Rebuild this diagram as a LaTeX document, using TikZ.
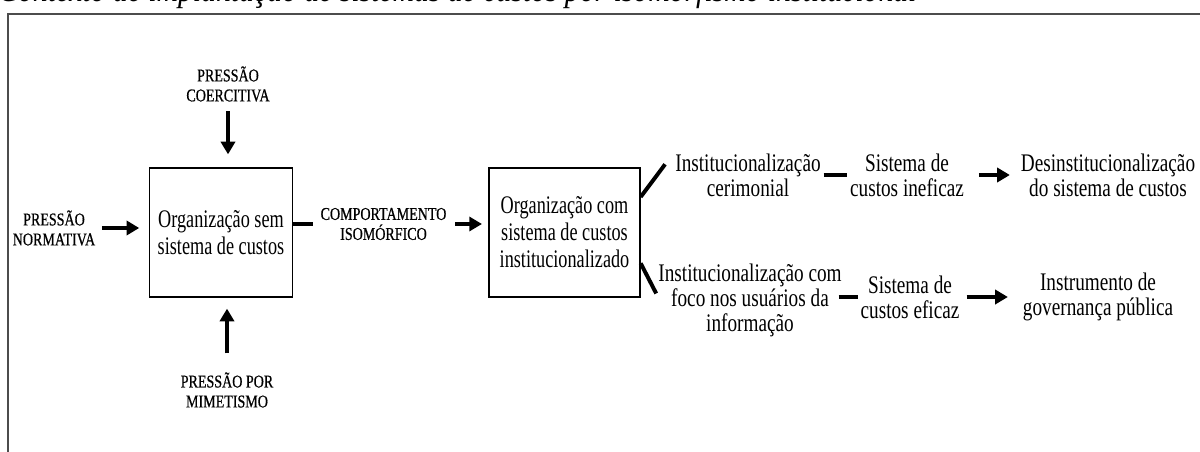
\documentclass[tikz,border=0pt]{standalone}
\usepackage{fontspec}
\setmainfont{Liberation Serif}
\newfontfamily\narrowfont[FakeStretch=0.76]{Liberation Serif}
\newfontfamily\boxfont[FakeStretch=0.72]{Liberation Serif}
\newfontfamily\capsfont[FakeStretch=0.78, FakeBold=0.6]{Liberation Serif}
\newfontfamily\titlefont[FakeStretch=0.88]{Liberation Serif}
\usetikzlibrary{arrows.meta}

\begin{document}
\begin{tikzpicture}[x=0.025cm, y=-0.025cm,
	box/.style={shape=rectangle, draw, line width=0.9pt, align=center, inner sep=0pt, font=\boxfont\fontsize{18}{19.2}\selectfont},
	txt/.style={align=center, inner sep=2pt, font=\narrowfont\fontsize{18}{17.8}\selectfont},
	caps/.style={align=center, inner sep=2pt, font=\capsfont\fontsize{12.8}{14.2}\selectfont},
	arr/.style={line width=2.8pt, -{Triangle[length=9pt, width=10pt]}},
	bar/.style={line width=2.8pt}]
	\useasboundingbox (0, 0) rectangle (1200, 452);
	% Frame and caption (cut by the page):
	\node[overlay, anchor=base west, inner sep=0pt, font=\titlefont\itshape\fontsize{24}{28}\selectfont] (caption) at (-2, 2) {Contexto de implantação de sistemas de custos por isomorfismo institucional};
	\draw[overlay, line width=1.4pt, black!70] (8, 470) -- (8, 14) -- (1220, 14);
	% Nodes:
	\node[caps] (coer) at (228, 84) {PRESSÃO\\COERCITIVA};
	\node[box, minimum width=3.575cm, minimum height=3.225cm] (org1) at (221, 232.5) {Organização sem\\sistema de custos};
	\node[caps] (mim) at (227, 390) {PRESSÃO POR\\MIMETISMO};
	\node[caps] (norm) at (54, 228) {PRESSÃO\\NORMATIVA};
	\node[caps] (comp) at (383.5, 224) {COMPORTAMENTO\\ISOMÓRFICO};
	\node[box, minimum width=3.775cm, minimum height=3.225cm] (org2) at (564.5, 232.5) {Organização com\\sistema de custos\\institucionalizado};
	\node[txt] (cer) at (748, 175) {Institucionalização\\cerimonial};
	\node[txt] (inef) at (907, 175) {Sistema de\\custos ineficaz};
	\node[txt] (desinst) at (1108, 175) {Desinstitucionalização\\do sistema de custos};
	\node[txt] (foco) at (750, 300) {Institucionalização com\\foco nos usuários da\\informação};
	\node[txt] (efic) at (910, 297) {Sistema de\\custos eficaz};
	\node[txt] (gov) at (1098, 297) {Instrumento de\\governança pública};
	% Wires:
	\draw[arr, shorten <=0.16cm, shorten >=0.325cm] (coer) -- (coer |- org1.north);
	\draw[arr, shorten <=0.4cm, shorten >=0.275cm] (mim) -- (mim |- org1.south);
	\draw[arr, shorten <=0.09cm, shorten >=0.24cm] (norm) -- (norm -| org1.west);
	\draw[bar, shorten >=0.125cm] (org1.east |- comp) -- (comp);
	\draw[arr, shorten <=0.15cm, shorten >=0.16cm] (comp) -- (comp -| org2.west);
	\draw[bar, shorten >=0.3cm] (org2.25) -- (cer.165);
	\draw[bar, shorten >=-0.05cm] (org2.-22) -- (foco.175);
	\draw[bar] (cer.east) -- (inef.west);
	\draw[arr, shorten <=0.3cm, shorten >=0.2cm] (inef) -- (desinst);
	\draw[bar, shorten <=-0.15cm] (foco.east |- efic) -- (efic.west);
	\draw[arr, shorten <=0.1cm, shorten >=0.3cm] (efic) -- (gov);
\end{tikzpicture}
\end{document}
